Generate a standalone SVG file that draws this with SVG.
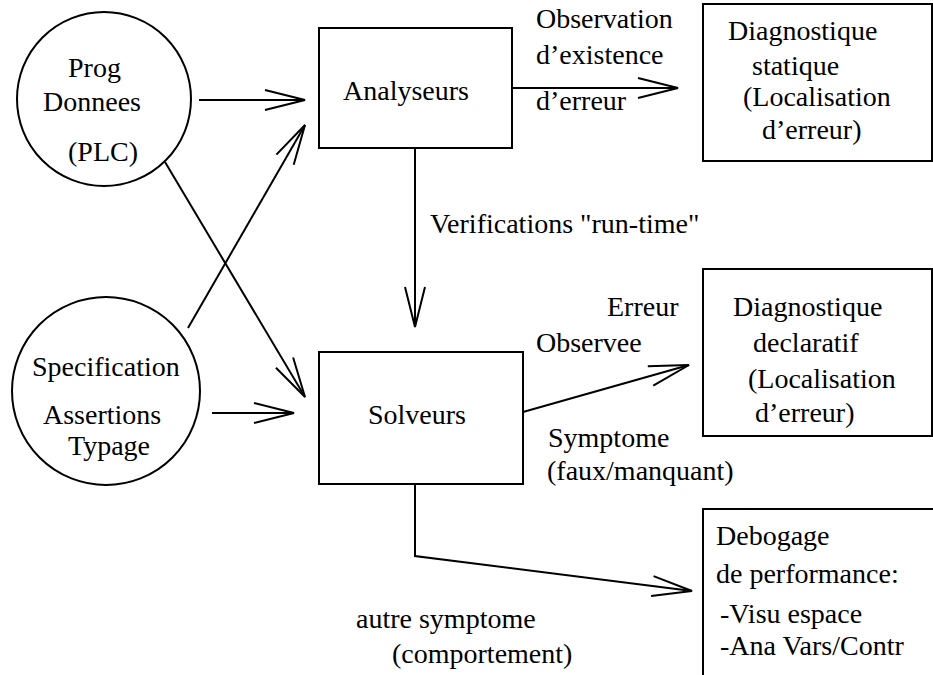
<svg xmlns="http://www.w3.org/2000/svg" width="933" height="675" viewBox="0 0 933 675">
<defs>
<style>
text{font-family:"Liberation Serif","Times New Roman",serif;font-size:28px;fill:#000}
.n{fill:none;stroke:#000;stroke-width:2}
.c{fill:none;stroke:#000;stroke-width:2}
</style>
<marker id="ah" markerUnits="userSpaceOnUse" viewBox="-42 -12 44 24" refX="0" refY="0" markerWidth="44" markerHeight="24" orient="auto" overflow="visible">
<path d="M-40,-10 L0,0 L-40,10" fill="none" stroke="#000" stroke-width="2"/>
</marker>
</defs>
<rect width="933" height="675" fill="#fff"/>
<g id="connectors">
<line class="c" x1="199" y1="100" x2="305" y2="100" marker-end="url(#ah)"/>
<line class="c" x1="165" y1="162" x2="305" y2="397" marker-end="url(#ah)"/>
<line class="c" x1="188" y1="328" x2="305" y2="125" marker-end="url(#ah)"/>
<line class="c" x1="212" y1="413" x2="294" y2="413" marker-end="url(#ah)"/>
<line class="c" x1="512" y1="88" x2="678" y2="88" marker-end="url(#ah)"/>
<line class="c" x1="415" y1="148" x2="415" y2="327" marker-end="url(#ah)"/>
<line class="c" x1="523" y1="412" x2="689" y2="365" marker-end="url(#ah)"/>
<polyline class="c" points="415,484 415,556 692,591" marker-end="url(#ah)"/>
<text x="536" y="28">Observation</text>
<text x="536" y="64">d’existence</text>
<text x="536" y="110">d’erreur</text>
<text x="430" y="233">Verifications "run-time"</text>
<text x="607" y="316">Erreur</text>
<text x="536" y="352">Observee</text>
<text x="548" y="447">Symptome</text>
<text x="547" y="480">(faux/manquant)</text>
<text x="356" y="628">autre symptome</text>
<text x="392" y="663">(comportement)</text>
</g>
<g id="prog">
<circle class="n" cx="104" cy="99" r="87"/>
<text x="68" y="77">Prog</text>
<text x="43" y="111">Donnees</text>
<text x="68" y="161">(PLC)</text>
</g>
<g id="spec">
<circle class="n" cx="106" cy="391" r="94"/>
<text x="32" y="376">Specification</text>
<text x="43" y="424">Assertions</text>
<text x="68" y="455">Typage</text>
</g>
<g id="analyseurs">
<rect class="n" x="319" y="28" width="193" height="120"/>
<text x="343" y="100">Analyseurs</text>
</g>
<g id="solveurs">
<rect class="n" x="319" y="352" width="204" height="132"/>
<text x="368" y="424">Solveurs</text>
</g>
<g id="diag-statique">
<rect class="n" x="703" y="4" width="229" height="157"/>
<text x="728" y="40">Diagnostique</text>
<text x="752" y="75">statique</text>
<text x="743" y="106">(Localisation</text>
<text x="762" y="139">d’erreur)</text>
</g>
<g id="diag-declaratif">
<rect class="n" x="703" y="269" width="229" height="167"/>
<text x="733" y="316">Diagnostique</text>
<text x="753" y="352">declaratif</text>
<text x="748" y="388">(Localisation</text>
<text x="755" y="422">d’erreur)</text>
</g>
<g id="debogage">
<rect class="n" x="703" y="509" width="240" height="200"/>
<text x="716" y="545">Debogage</text>
<text x="716" y="583">de performance:</text>
<text x="720" y="623">-Visu espace</text>
<text x="720" y="655">-Ana Vars/Contr</text>
</g>
</svg>
